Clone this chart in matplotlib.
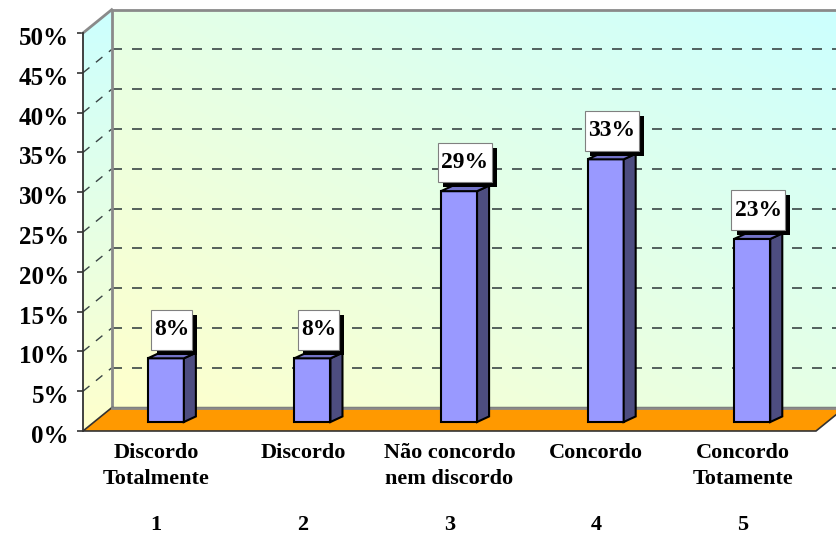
import numpy as np
import matplotlib
matplotlib.use("Agg")
import matplotlib.pyplot as plt
from matplotlib.patches import Polygon, Rectangle
from matplotlib.transforms import ScaledTranslation

# survey answers (share of respondents, %)
categories = ["Discordo\nTotalmente", "Discordo", "Não concordo\nnem discordo",
              "Concordo", "Concordo\nTotamente"]
codes = ["1", "2", "3", "4", "5"]
values = [8, 8, 29, 33, 23]
yticks = [0, 5, 10, 15, 20, 25, 30, 35, 40, 45, 50]

plt.rcParams['font.family'] = ['Liberation Serif', 'DejaVu Serif']
plt.rcParams['font.weight'] = 'bold'

fig = plt.figure(figsize=(8.36, 5.34), dpi=100)
fig.patch.set_facecolor('white')
ax = fig.add_axes([83 / 836, 103 / 534, 733 / 836, 398 / 534])

x = np.arange(1, len(values) + 1)
xmin, xmax = 0.5, len(values) + 0.5
ymin, ymax = 0, 50

# oblique depth of the walls, and of the bars sitting on the floor
DX, DY = 0.196, 2.93
BX0, BY0 = 0.065, 1.13     # bar front face offset from the front plane
BDX, BDY = 0.082, 0.70     # bar depth
HALF_W = 0.123

yellow = np.array([1.0, 1.0, 0.80])
cyan = np.array([0.80, 1.0, 1.0])


def gradient(nx, ny, diagonal=True):
    u = np.linspace(0, 1, nx)[None, :]
    v = np.linspace(0, 1, ny)[:, None]
    t = (u + v) / 2 if diagonal else v + 0 * u
    return yellow * (1 - t[..., None]) + cyan * t[..., None]


def wall(corners, rgb, extent):
    poly = Polygon(corners, closed=True, transform=ax.transData)
    im = ax.imshow(rgb, origin='lower', aspect='auto', interpolation='bilinear',
                   extent=extent, zorder=0)
    im.set_clip_box(fig.bbox)
    im.set_clip_path(poly)
    return im


# back wall and left side wall
wall([(xmin + DX, ymin + DY), (xmax + DX, ymin + DY), (xmax + DX, ymax + DY), (xmin + DX, ymax + DY)],
     gradient(200, 200), (xmin + DX, xmax + DX, ymin + DY, ymax + DY))
wall([(xmin, ymin), (xmin + DX, ymin + DY), (xmin + DX, ymax + DY), (xmin, ymax)],
     gradient(20, 200, diagonal=False), (xmin, xmin + DX, ymin, ymax + DY))

# dashed gridlines on both walls
for v in yticks[1:-1]:
    ax.plot([xmin + DX, xmax + DX], [v + DY, v + DY], color='#3a4545', lw=1.2,
            dashes=(6, 6), clip_on=False, zorder=1)
    ax.plot([xmin, xmin + DX], [v, v + DY], color='#3a4545', lw=1.0,
            dashes=(6, 6), clip_on=False, zorder=1)

# wall edges
ax.plot([xmin + DX, xmin + DX, xmax + DX], [ymin + DY, ymax + DY, ymax + DY],
        color='#8a8a8a', lw=2, clip_on=False, zorder=2)
ax.plot([xmin, xmin + DX], [ymax, ymax + DY], color='#8a8a8a', lw=2,
        clip_on=False, zorder=2)

# floor
floor = Polygon([(xmin, ymin), (xmax, ymin), (xmax + DX, ymin + DY), (xmin + DX, ymin + DY)],
                closed=True, facecolor='#ff9900', edgecolor='#333333', lw=1.2,
                clip_on=False, zorder=3)
ax.add_patch(floor)
ax.plot([xmin + DX, xmax + DX], [ymin + DY, ymin + DY], color='#8a8a8a', lw=2,
        clip_on=False, zorder=3)

# 3d bars with value boxes
for xi, val in zip(x, values):
    c = xi + BX0
    left, right = c - HALF_W, c + HALF_W
    base, top = ymin + BY0, val + BY0
    front = Polygon([(left, base), (right, base), (right, top), (left, top)],
                    facecolor='#9999ff', edgecolor='black', lw=1.5, zorder=4, clip_on=False)
    side = Polygon([(right, base), (right + BDX, base + BDY), (right + BDX, top + BDY), (right, top)],
                   facecolor='#4d4d80', edgecolor='black', lw=1.5, zorder=4, clip_on=False)
    cap = Polygon([(left, top), (right, top), (right + BDX, top + BDY), (left + BDX, top + BDY)],
                  facecolor='#7373c8', edgecolor='black', lw=1.5, zorder=4, clip_on=False)
    for p in (front, side, cap):
        ax.add_patch(p)

    label = "%d%%" % val
    bw = 0.10 + 0.089 * len(label)
    bh = 5.0
    bx = c + BDX / 2 - bw / 2
    by = top + 1.1
    ax.add_patch(Rectangle((bx + 0.036, by - 0.62), bw, bh, facecolor='black',
                           edgecolor='none', zorder=5, clip_on=False))
    ax.add_patch(Rectangle((bx, by), bw, bh, facecolor='white', edgecolor='#808080',
                           lw=0.8, zorder=6, clip_on=False))
    ax.text(bx + bw / 2, by + bh / 2, label, ha='center', va='center', fontsize=17,
            fontweight='bold', zorder=7)

# axes and labels
ax.set_xlim(xmin, xmax)
ax.set_ylim(ymin, ymax)
ax.set_yticks(yticks)
ax.set_yticklabels(["%d%%" % v for v in yticks], fontsize=18, fontweight='bold')
ax.tick_params(axis='y', direction='out', length=4, width=1.2, color='#333333', pad=6)
shift = ScaledTranslation(0, -3 / 100, fig.dpi_scale_trans)
for lbl in ax.get_yticklabels():
    lbl.set_transform(lbl.get_transform() + shift)

ax.set_xticks(x)
ax.set_xticklabels(categories, fontsize=16, fontweight='bold', va='top', linespacing=1.4)
ax.tick_params(axis='x', length=0, pad=9)
for xi, code in zip(x, codes):
    ax.text(xi, -12.45, code, ha='center', va='baseline', fontsize=16, fontweight='bold',
            clip_on=False)

for s in ('top', 'right', 'bottom'):
    ax.spines[s].set_visible(False)
ax.spines['left'].set_color('#333333')
ax.spines['left'].set_linewidth(1.3)
ax.spines['left'].set_zorder(3)
ax.patch.set_visible(False)

fig.savefig("out.png", dpi=100)
